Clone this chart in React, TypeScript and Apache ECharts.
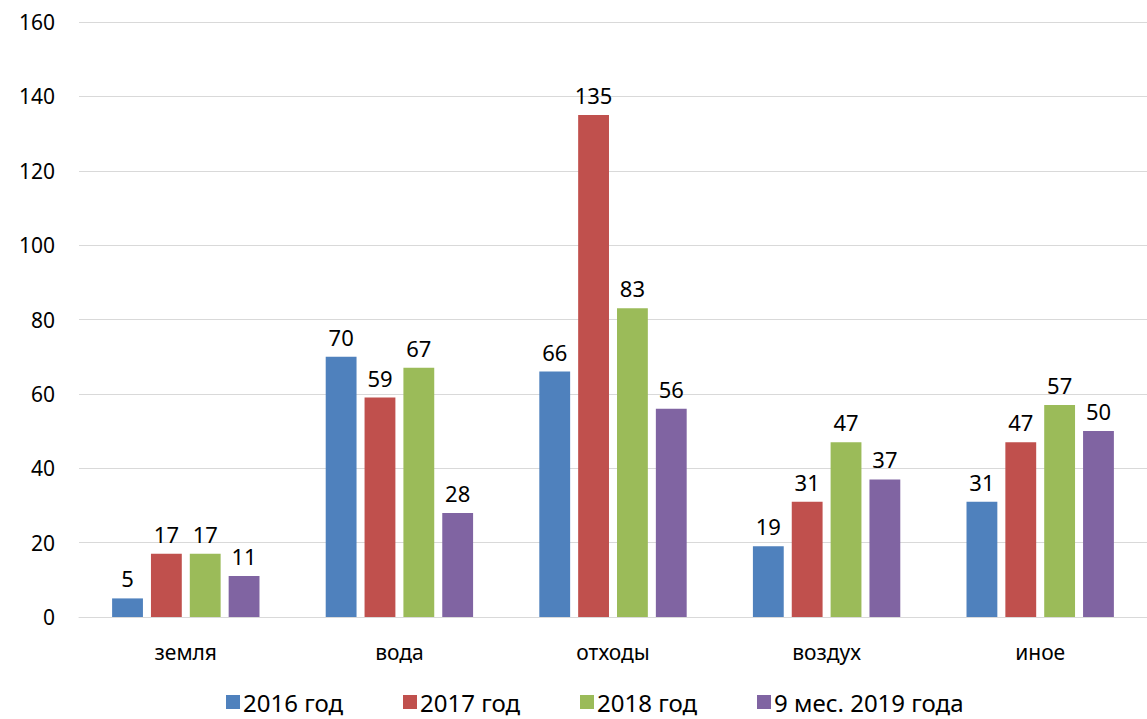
import React, { useEffect, useRef } from "react";
import * as echarts from "echarts";

const categories = ["земля", "вода", "отходы", "воздух", "иное"];
const seriesNames = ["2016 год", "2017 год", "2018 год", "9 мес. 2019 года"];
const values2016 = [5, 70, 66, 19, 31];
const values2017 = [17, 59, 135, 31, 47];
const values2018 = [17, 67, 83, 47, 57];
const values2019 = [11, 28, 56, 37, 50];
const colors = ["#4F81BD", "#C0504D", "#9BBB59", "#8064A2"];

const FONT = "'Noto Sans', sans-serif";

export default function App() {
  const ref = useRef<HTMLDivElement>(null);
  useEffect(() => {
    document.body.style.margin = "0";
    const chart = echarts.init(ref.current!, null, { renderer: "svg" });
    const data = [values2016, values2017, values2018, values2019];
    chart.setOption({
      animation: false,
      grid: { left: 79, right: 0, top: 22, bottom: 102, containLabel: false },
      legend: {
        bottom: 0,
        left: 221,
        itemWidth: 14,
        itemHeight: 14,
        itemGap: 60,
        icon: "rect",
        textStyle: { fontFamily: FONT, fontSize: 24, color: "#000", padding: [0, 0, 0, -2] },
        data: seriesNames,
      },
      xAxis: {
        type: "category",
        data: categories,
        axisLine: { lineStyle: { color: "#D9D9D9", width: 1 } },
        axisTick: { show: false },
        axisLabel: { fontFamily: FONT, fontSize: 21, color: "#000", margin: 24 },
      },
      yAxis: {
        type: "value",
        min: 0,
        max: 160,
        interval: 20,
        axisLine: { show: false },
        axisTick: { show: false },
        splitLine: { lineStyle: { color: "#D9D9D9", width: 1 } },
        axisLabel: { fontFamily: FONT, fontSize: 21, color: "#000", margin: 24 },
      },
      series: seriesNames.map((name, i) => ({
        name,
        type: "bar",
        data: data[i],
        barGap: "26%",
        barCategoryGap: "31%",
        itemStyle: { color: colors[i] },
        label: {
          show: true,
          position: "top",
          distance: 9,
          fontFamily: FONT,
          fontSize: 22,
          color: "#000",
        },
      })),
    });
    return () => chart.dispose();
  }, []);
  return <div ref={ref} style={{ width: 1147, height: 719 }} />;
}
